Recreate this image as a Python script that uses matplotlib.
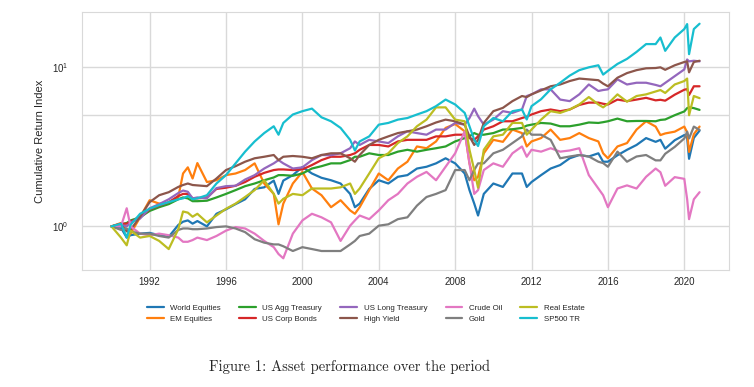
import numpy as np
import matplotlib
matplotlib.use("Agg")
import matplotlib.pyplot as plt
import seaborn as sns
from matplotlib.ticker import MultipleLocator, FormatStrFormatter, FixedLocator, NullFormatter

# -------------------------------
# DATA (cumulative index, start = 1)
# -------------------------------
years = [
    1990.0, 1990.5, 1990.8, 1991.0, 1991.5, 1992.0, 1992.5, 1993.0, 1993.5, 1993.75, 1994.0, 1994.25, 1994.5, 1995.0,
    1995.5, 1996.0, 1996.5, 1997.0, 1997.5, 1998.0, 1998.5, 1998.75, 1999.0, 1999.5, 2000.0, 2000.5, 2001.0,
    2001.5, 2002.0, 2002.5, 2002.75, 2003.0, 2003.5, 2004.0, 2004.5, 2005.0, 2005.5, 2006.0, 2006.5, 2007.0,
    2007.5, 2008.0, 2008.5, 2008.75, 2009.0, 2009.2, 2009.5, 2010.0, 2010.5, 2011.0, 2011.5, 2011.75, 2012.0,
    2012.5, 2013.0, 2013.5, 2014.0, 2014.5, 2015.0, 2015.5, 2015.75, 2016.0, 2016.5, 2017.0, 2017.5, 2018.0,
    2018.5, 2018.75, 2019.0, 2019.5, 2020.0, 2020.15, 2020.25, 2020.5, 2020.8,
]

world_equities = [
    1.00, 0.98, 0.85, 0.88, 0.90, 0.91, 0.88, 0.86, 1.02, 1.07, 1.09, 1.04, 1.08, 1.00,
    1.20, 1.28, 1.38, 1.48, 1.72, 1.76, 1.94, 1.60, 1.94, 2.10, 2.36, 2.15, 2.02,
    1.95, 1.86, 1.60, 1.32, 1.39, 1.72, 1.95, 1.86, 2.05, 2.10, 2.31, 2.37, 2.49,
    2.68, 2.49, 2.15, 1.69, 1.39, 1.17, 1.60, 1.86, 1.77, 2.15, 2.15, 1.77, 1.90,
    2.10, 2.31, 2.43, 2.68, 2.81, 2.75, 2.88, 2.55, 2.55, 2.80, 3.03, 3.25, 3.59,
    3.40, 3.50, 3.08, 3.48, 3.75, 3.60, 2.66, 3.60, 4.00,
]
em_equities = [
    1.00, 1.05, 0.95, 0.90, 1.14, 1.46, 1.39, 1.39, 1.53, 2.15, 2.35, 2.00, 2.50, 1.90,
    1.95, 2.10, 2.15, 2.26, 2.49, 1.86, 1.60, 1.03, 1.39, 1.86, 2.20, 1.73, 1.57,
    1.32, 1.46, 1.26, 1.20, 1.32, 1.69, 2.15, 1.95, 2.31, 2.55, 3.18, 3.10, 3.42,
    4.16, 4.40, 3.96, 2.49, 1.95, 2.05, 2.88, 3.50, 3.40, 4.06, 3.86, 3.18, 3.42,
    3.59, 4.06, 3.50, 3.59, 3.86, 3.59, 3.42, 2.88, 2.68, 3.18, 3.34, 4.06, 4.58,
    4.24, 3.75, 3.84, 3.94, 4.24, 3.90, 2.94, 3.80, 4.24,
]
us_agg_treasury = [
    1.00, 1.03, 1.05, 1.09, 1.14, 1.25, 1.32, 1.38, 1.48, 1.52, 1.50, 1.44, 1.44, 1.45,
    1.52, 1.60, 1.69, 1.79, 1.86, 1.95, 2.03, 2.10, 2.10, 2.08, 2.15, 2.31, 2.39,
    2.49, 2.49, 2.61, 2.74, 2.74, 2.88, 2.81, 2.81, 2.95, 3.03, 2.95, 3.03, 3.10,
    3.18, 3.42, 3.59, 3.68, 3.86, 3.77, 3.77, 3.86, 4.06, 4.08, 4.16, 4.30, 4.36,
    4.47, 4.43, 4.26, 4.26, 4.36, 4.50, 4.47, 4.52, 4.58, 4.76, 4.58, 4.60, 4.60,
    4.58, 4.67, 4.70, 5.00, 5.28, 5.54, 5.60, 5.54, 5.40,
]
us_corp_bonds = [
    1.00, 1.04, 1.04, 1.07, 1.14, 1.28, 1.35, 1.42, 1.55, 1.60, 1.60, 1.50, 1.50, 1.52,
    1.72, 1.75, 1.80, 1.90, 2.05, 2.17, 2.26, 2.28, 2.28, 2.26, 2.28, 2.43, 2.61,
    2.74, 2.74, 2.81, 2.88, 3.03, 3.25, 3.25, 3.18, 3.42, 3.50, 3.50, 3.50, 3.68,
    3.68, 3.77, 3.77, 3.59, 3.50, 3.68, 4.06, 4.26, 4.58, 4.58, 4.80, 4.90, 5.05,
    5.30, 5.43, 5.30, 5.43, 5.80, 6.00, 6.00, 5.90, 5.84, 6.27, 6.13, 6.27, 6.43,
    6.20, 6.25, 6.17, 6.73, 7.23, 7.30, 6.70, 7.60, 7.60,
]
us_long_treasury = [
    1.00, 1.02, 1.00, 1.06, 1.12, 1.30, 1.38, 1.48, 1.62, 1.68, 1.65, 1.50, 1.52, 1.50,
    1.74, 1.79, 1.80, 1.97, 2.10, 2.31, 2.49, 2.61, 2.49, 2.31, 2.35, 2.61, 2.81,
    2.80, 2.88, 3.10, 3.42, 3.25, 3.50, 3.42, 3.34, 3.68, 3.96, 3.86, 3.77, 4.06,
    4.06, 4.47, 4.36, 4.80, 5.50, 4.93, 4.36, 4.69, 5.30, 5.17, 5.43, 6.60, 6.76,
    7.27, 7.27, 6.27, 6.13, 6.76, 7.80, 7.10, 7.20, 7.27, 8.40, 7.80, 8.00, 8.00,
    7.75, 7.60, 7.98, 8.80, 9.70, 11.20, 10.90, 11.00, 10.90,
]
high_yield = [
    1.00, 1.02, 0.93, 0.95, 1.15, 1.42, 1.57, 1.64, 1.77, 1.82, 1.86, 1.82, 1.81, 1.79,
    2.00, 2.26, 2.39, 2.55, 2.68, 2.74, 2.81, 2.61, 2.74, 2.77, 2.74, 2.68, 2.81,
    2.88, 2.88, 2.68, 2.55, 2.81, 3.25, 3.50, 3.68, 3.86, 3.96, 4.06, 4.26, 4.50,
    4.69, 4.58, 4.36, 3.68, 3.25, 3.50, 4.47, 5.30, 5.56, 6.13, 6.60, 6.50, 6.76,
    7.16, 7.60, 7.80, 8.20, 8.50, 8.40, 8.30, 7.90, 7.60, 8.60, 9.20, 9.60, 9.86,
    9.90, 10.00, 9.65, 10.30, 10.80, 10.90, 9.30, 10.80, 11.00,
]
crude_oil = [
    1.00, 1.00, 1.30, 1.00, 0.90, 0.88, 0.90, 0.88, 0.85, 0.80, 0.80, 0.82, 0.85, 0.82,
    0.87, 0.94, 0.99, 0.97, 0.90, 0.81, 0.74, 0.67, 0.63, 0.90, 1.09, 1.20, 1.14,
    1.06, 0.81, 1.01, 1.09, 1.17, 1.11, 1.26, 1.46, 1.60, 1.86, 2.05, 2.20, 1.95,
    2.37, 2.88, 3.96, 2.49, 1.60, 1.69, 2.26, 2.49, 2.37, 2.88, 3.18, 2.74, 3.03,
    2.95, 3.10, 2.95, 3.00, 3.10, 2.10, 1.73, 1.57, 1.32, 1.73, 1.81, 1.73, 2.05,
    2.31, 2.19, 1.80, 2.04, 1.99, 1.48, 1.11, 1.48, 1.64,
]
gold = [
    1.00, 0.95, 0.97, 0.93, 0.90, 0.90, 0.87, 0.85, 0.95, 0.97, 0.97, 0.96, 0.96, 0.97,
    0.99, 1.00, 0.97, 0.92, 0.83, 0.79, 0.77, 0.77, 0.75, 0.70, 0.74, 0.72, 0.70,
    0.70, 0.70, 0.77, 0.81, 0.87, 0.90, 1.01, 1.03, 1.11, 1.14, 1.35, 1.53, 1.60,
    1.69, 2.26, 2.26, 1.95, 2.26, 2.49, 2.49, 2.88, 3.03, 3.34, 3.68, 4.06, 3.77,
    3.77, 3.50, 2.68, 2.75, 2.81, 2.75, 2.55, 2.50, 2.37, 2.95, 2.55, 2.75, 2.81,
    2.60, 2.60, 2.86, 3.16, 3.57, 3.94, 3.57, 4.24, 4.04,
]
real_estate = [
    1.00, 0.85, 0.76, 0.94, 0.85, 0.87, 0.81, 0.72, 0.96, 1.24, 1.22, 1.15, 1.20, 1.06,
    1.17, 1.29, 1.39, 1.53, 1.69, 1.95, 1.60, 1.39, 1.49, 1.60, 1.57, 1.73, 1.73,
    1.73, 1.76, 1.86, 1.60, 1.73, 2.15, 2.68, 2.88, 3.34, 3.68, 4.26, 4.69, 5.60,
    5.60, 4.69, 4.58, 3.03, 2.26, 1.75, 3.03, 3.68, 3.77, 4.47, 4.47, 3.77, 4.06,
    4.69, 5.30, 5.17, 5.43, 5.84, 6.50, 5.84, 5.60, 5.90, 6.76, 6.08, 6.60, 6.76,
    7.05, 7.20, 6.90, 7.80, 8.20, 8.50, 5.00, 6.60, 6.40,
]
sp500_tr = [
    1.00, 1.04, 0.85, 1.02, 1.20, 1.29, 1.36, 1.42, 1.48, 1.50, 1.55, 1.48, 1.50, 1.57,
    1.86, 2.10, 2.49, 2.95, 3.42, 3.86, 4.26, 3.77, 4.47, 5.05, 5.30, 5.50, 4.85,
    4.58, 4.16, 3.50, 3.00, 3.42, 3.68, 4.36, 4.47, 4.69, 4.80, 5.05, 5.30, 5.70,
    6.27, 5.84, 5.17, 4.26, 3.50, 3.20, 4.26, 4.80, 4.58, 5.30, 5.43, 4.70, 5.70,
    6.30, 7.27, 8.00, 8.87, 9.60, 10.00, 10.30, 9.00, 9.50, 10.50, 11.30, 12.50, 14.00,
    14.00, 15.40, 12.70, 15.40, 17.40, 18.70, 12.10, 17.40, 18.80,
]

series_names = [
    "World Equities", "EM Equities", "US Agg Treasury", "US Corp Bonds", "US Long Treasury",
    "High Yield", "Crude Oil", "Gold", "Real Estate", "SP500 TR",
]
series_values = [
    world_equities, em_equities, us_agg_treasury, us_corp_bonds, us_long_treasury,
    high_yield, crude_oil, gold, real_estate, sp500_tr,
]

# -------------------------------
# STYLE
# -------------------------------
sns.set_style("whitegrid")
plt.rcParams["font.family"] = ["Liberation Sans", "DejaVu Sans"]
plt.rcParams["mathtext.default"] = "regular"

fig = plt.figure(figsize=(7.54, 3.87), dpi=100)
ax = fig.add_axes([0.1088, 0.3023, 0.858, 0.6667])

# -------------------------------
# PLOT
# -------------------------------
colors = sns.color_palette("tab10", 10)
for name, vals, col in zip(series_names, series_values, colors):
    ax.plot(years, vals, label=name, color=col, linewidth=1.6)

ax.set_yscale("log")
ax.yaxis.set_minor_locator(FixedLocator([5]))
ax.yaxis.set_minor_formatter(NullFormatter())
ax.grid(True, which="both", color="#d9d9d9", linewidth=1.0)
for sp in ax.spines.values():
    sp.set_color("#d9d9d9")

ax.xaxis.set_major_locator(MultipleLocator(4))
ax.xaxis.set_major_formatter(FormatStrFormatter("%d"))
ax.tick_params(axis="both", which="both", length=0, labelsize=7, colors="#262626")
ax.tick_params(axis="y", pad=10)
ax.tick_params(axis="x", pad=5)
ax.set_ylabel("Cumulative Return Index", fontsize=8, color="#262626", labelpad=5)

fig.legend(loc="center", bbox_to_anchor=(0.485, 0.19), ncol=5, frameon=False,
           fontsize=5.7, handlelength=2.1, handletextpad=0.85, columnspacing=2.3,
           labelspacing=0.45)

fig.text(0.464, 0.052, "Figure 1: Asset performance over the period",
         family="cmr10", fontsize=10.5, ha="center", va="center")

plt.savefig("out.png", dpi=100)
